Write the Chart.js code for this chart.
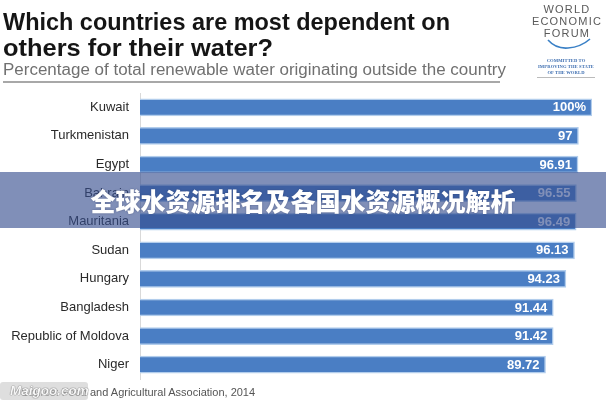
<!DOCTYPE html>
<html>
<head>
<meta charset="utf-8">
<script src="https://cdn.jsdelivr.net/npm/chart.js@4"></script>
<style>
  html, body { margin:0; padding:0; background:#fff; }
  body { width:606px; height:400px; position:relative; overflow:hidden; font-family:"Liberation Sans", Arial, sans-serif; }
  .abs { position:absolute; white-space:nowrap; line-height:1; transform-origin:left top; }
  #title1, #title2 { font-weight:bold; font-size:24px; color:#151515; left:3px; }
  #sub { font-size:16px; color:#707070; left:3px; }
  #rule { position:absolute; left:3px; top:81px; width:497px; height:2px; background:#a8a8a8; }
  #rule2 { position:absolute; left:537px; top:77px; width:58px; height:1px; background:#bbb; }
  .logo { position:absolute; width:80px; left:527px; text-align:center; font-size:11px; letter-spacing:1.2px; color:#5a5a5a; line-height:1; }
  .tiny { position:absolute; width:80px; left:526px; text-align:center; font-family:"Liberation Serif", serif; font-weight:bold; font-size:4.6px; color:#3c6db0; line-height:1; letter-spacing:0.1px; }
  #banner { position:absolute; left:0; top:172px; width:606px; height:56px; background:rgba(54,78,143,0.63); }
  #bannerText { position:absolute; left:0; top:172px; width:606px; height:56px; line-height:56px; text-align:center; color:#fff; font-family:"Noto Sans CJK SC", sans-serif; font-weight:900; font-size:25px; text-shadow:0 0 2px rgba(40,50,90,0.5); }
  #source { font-size:11px; color:#555; top:387px; }
  #wm { position:absolute; left:0; top:382px; width:88px; height:18px; background:rgba(200,200,200,0.6); border-radius:3px; }
  #wmText { position:absolute; left:10px; top:383px; font-size:13.5px; font-weight:bold; font-style:italic; color:rgba(255,255,255,0.95); text-shadow:0 0 1px #666, 0 0 1px #666; line-height:16px; }
</style>
</head>
<body>
<canvas id="c" width="606" height="400" style="position:absolute;left:0;top:0;"></canvas>

<div id="title1" class="abs" style="top:10px;">Which countries are most dependent on</div>
<div id="title2" class="abs" style="top:36px;">others for their water?</div>
<div id="sub" class="abs" style="top:62px;">Percentage of total renewable water originating outside the country</div>
<div id="rule"></div>

<div class="logo" style="top:4px;">WORLD</div>
<div class="logo" style="top:16px;">ECONOMIC</div>
<div class="logo" style="top:28px;">FORUM</div>
<svg style="position:absolute;left:527px;top:38px;" width="80" height="16">
  <path d="M21 2 Q29 11 41 10 Q54 9 63 1" stroke="#3a80c6" stroke-width="1.6" fill="none"/>
</svg>
<div class="tiny" style="top:59px;">COMMITTED TO</div>
<div class="tiny" style="top:65px;">IMPROVING THE STATE</div>
<div class="tiny" style="top:71px;">OF THE WORLD</div>
<div id="rule2"></div>

<div id="source" class="abs">Source: Food and Agricultural Association, 2014</div>

<div id="banner"></div>
<div id="bannerText">全球水资源排名及各国水资源概况解析</div>
<div id="wm"></div>
<div id="wmText">Maigoo.com</div>

<script>
const categories = ['Kuwait', 'Turkmenistan', 'Egypt', 'Bahrain', 'Mauritania', 'Sudan', 'Hungary', 'Bangladesh', 'Republic of Moldova', 'Niger'];
const values = [100, 97, 96.91, 96.55, 96.49, 96.13, 94.23, 91.44, 91.42, 89.72];
const valueLabels = ['100%', '97', '96.91', '96.55', '96.49', '96.13', '94.23', '91.44', '91.42', '89.72'];

function fitWidth(id, target) {
  const el = document.getElementById(id);
  const w = el.getBoundingClientRect().width;
  el.style.transform = 'scaleX(' + (target / w) + ')';
}
fitWidth('title1', 447);
fitWidth('title2', 270);
fitWidth('sub', 503);
(function(){
  const src = document.getElementById('source');
  const c = document.createElement('canvas').getContext('2d');
  c.font = '11px "Liberation Sans", Arial, sans-serif';
  const pre = c.measureText('Source: Food ').width;
  src.style.left = (90 - pre) + 'px';
})();

const valueLabelPlugin = {
  id: 'valueLabels',
  afterDatasetsDraw(chart) {
    const ctx = chart.ctx;
    const meta = chart.getDatasetMeta(0);
    ctx.save();
    ctx.font = 'bold 13px "Liberation Sans", Arial, sans-serif';
    ctx.fillStyle = '#ffffff';
    ctx.textAlign = 'right';
    ctx.textBaseline = 'middle';
    meta.data.forEach((bar, i) => {
      ctx.fillText(valueLabels[i], bar.x - 6, bar.y + 0.5);
    });
    ctx.restore();
  }
};

new Chart(document.getElementById('c'), {
  type: 'bar',
  data: {
    labels: categories,
    datasets: [{
      data: values,
      backgroundColor: '#4a7ec4',
      borderColor: '#b2cdec',
      borderWidth: 1.5,
      borderSkipped: 'left',
      barThickness: 17
    }]
  },
  options: {
    indexAxis: 'y',
    responsive: false,
    animation: false,
    devicePixelRatio: 1,
    layout: { padding: { top: 93, bottom: 21, left: 0, right: 14 } },
    plugins: { legend: { display: false }, tooltip: { enabled: false }, title: { display: false } },
    scales: {
      x: { min: 0, max: 100, display: false },
      y: {
        grid: { display: false, drawTicks: false },
        border: { display: true, color: '#d9d9d9', width: 1 },
        ticks: { color: '#2a2a2a', padding: 11, font: { size: 13, family: '"Liberation Sans", Arial, sans-serif' } },
        afterFit(scale) { scale.width = 140; }
      }
    }
  },
  plugins: [valueLabelPlugin]
});
</script>
</body>
</html>
